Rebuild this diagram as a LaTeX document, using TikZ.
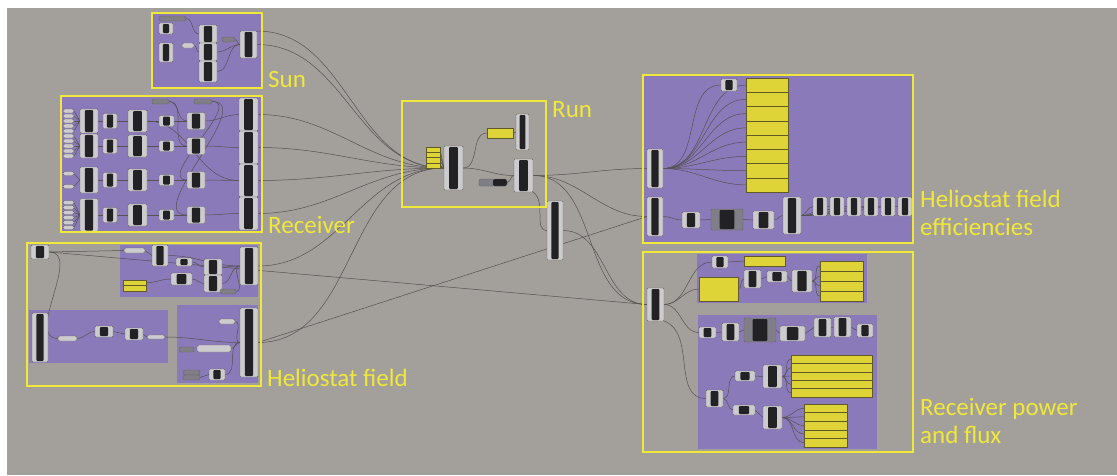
\documentclass[tikz,border=0pt]{standalone}
\usepackage{fontspec}
\setmainfont{Carlito}
\usetikzlibrary{calc}
\definecolor{canvas}{RGB}{163,159,154}
\definecolor{zonepurple}{RGB}{139,122,186}
\definecolor{frameyellow}{RGB}{240,232,58}
\definecolor{panelyellow}{RGB}{222,212,56}
\definecolor{paneledge}{RGB}{95,90,40}
\definecolor{ghlight}{RGB}{204,204,206}
\definecolor{ghmid}{RGB}{128,126,134}
\definecolor{ghdark}{RGB}{34,34,36}
\definecolor{wiregray}{RGB}{84,82,82}

\pgfdeclarelayer{back}
\pgfdeclarelayer{wires}
\pgfsetlayers{back,wires,main}

\tikzset{
  ghc/.style     = {rectangle, rounded corners=1pt, draw=black!60, fill=ghlight,
                    inner sep=0pt, outer sep=0pt, line width=0.4pt,
                    path picture={\fill[ghdark]
                      ($(path picture bounding box.south west)!0.27!(path picture bounding box.south east)+(0pt,1pt)$)
                      rectangle
                      ($(path picture bounding box.north west)!0.73!(path picture bounding box.north east)+(0pt,-1pt)$);}},
  ghwide/.style  = {ghc, fill=ghmid},
  ghpill/.style  = {rectangle, rounded corners=1.5pt, draw=black!60, fill=ghlight,
                    inner sep=0pt, outer sep=0pt, line width=0.4pt},
  ghpilld/.style = {ghpill, fill=ghmid},
  ghswitch/.style= {ghpill, fill=ghmid,
                    path picture={\fill[ghdark] (path picture bounding box.south)
                      rectangle (path picture bounding box.north east);}},
  ghpanel/.style = {rectangle, draw=paneledge, fill=panelyellow, inner sep=0pt,
                    outer sep=0pt, line width=0.5pt},
  zone/.style    = {fill=zonepurple},
  grp/.style     = {draw=frameyellow, line width=1.8pt},
  wire/.style    = {draw=wiregray, line width=0.5pt},
  lbl/.style     = {text=frameyellow, font=\fontsize{25}{28}\selectfont,
                    anchor=base west, inner sep=0pt},
}

% component by its corners: [style]{name}{x1}{y1}{x2}{y2}
\newcommand{\ghnode}[6][ghc]{%
  \node[#1, minimum width={(#5)-(#3)}, minimum height={(#6)-(#4)}] (#2)
    at ({((#3)+(#5))/2},{((#4)+(#6))/2}) {};}
% stack of yellow panels: {name}{x1}{y1}{x2}{y2}{count}
\newcommand{\ghstack}[6]{%
  \foreach \i in {1,...,#6}{
    \pgfmathsetmacro\ya{#3+(\i-1)*(#5-#3)/#6}
    \pgfmathsetmacro\yb{#3+\i*(#5-#3)/#6}
    \ghnode[ghpanel]{#1-\i}{#2}{\ya}{#4}{\yb}
  }}

\begin{document}
\begin{tikzpicture}[x=1pt, y=-1pt]
  \useasboundingbox (0,0) rectangle (1117,475);

  \begin{pgfonlayer}{back}
    \fill[white] (0,0) rectangle (1117,475);
    \fill[canvas] (7,8) rectangle (1117,475);
    \fill[zone] (152,13) rectangle (262,88);
    \fill[zone] (61,96) rectangle (262,232);
    \fill[zone] (120,245) rectangle (258,297);
    \fill[zone] (29,310) rectangle (168,363);
    \fill[zone] (177,305) rectangle (258,383);
    \fill[zone] (643,75) rectangle (913,243);
    \fill[zone] (697,254) rectangle (867,303);
    \fill[zone] (698,315) rectangle (877,449);
  \end{pgfonlayer}

  % Sun
  \ghnode[ghpilld]{sunA}{159}{16}{186}{21}
  \ghnode{sunB}{159}{23}{173}{34}
  \ghnode{sunC}{159}{43}{173}{62}
  \ghnode[ghpill]{sunD}{182}{43}{194}{48}
  \ghnode{sunE1}{199}{25}{217}{43}
  \ghnode{sunE2}{199}{43}{217}{61}
  \ghnode{sunE3}{199}{61}{217}{82}
  \ghnode[ghpilld]{sunF}{222}{37}{235}{42}
  \ghnode{sunOut}{240}{31}{257}{58}

  % Receiver
  \foreach \r/\yc/\hh/\ns/\sp in {1/121/24/5/5, 2/146/24/5/5, 3/180/26/2/13, 4/215/33/6/5}{
    \foreach \k in {1,...,\ns}{
      \pgfmathsetmacro\ys{\yc+(\k-(\ns+1)/2)*\sp}
      \ghnode[ghpill]{rcS\r-\k}{63}{\ys-2}{74}{\ys+2}
    }
    \ghnode{rcA\r}{80}{\yc-\hh/2}{98}{\yc+\hh/2}
    \ghnode{rcB\r}{103}{\yc-7.5}{117}{\yc+7.5}
    \ghnode{rcC\r}{128}{\yc-11}{147}{\yc+11}
    \ghnode{rcD\r}{159}{\yc-5.5}{174}{\yc+5.5}
    \ghnode{rcE\r}{187}{\yc-8.5}{205}{\yc+8.5}
  }
  \ghnode{rcOut1}{239}{98}{258}{131}
  \ghnode{rcOut2}{239}{131}{258}{164}
  \ghnode{rcOut3}{239}{164}{258}{197}
  \ghnode{rcOut4}{239}{197}{258}{230}
  \ghnode[ghpilld]{rcP1}{152}{99}{169}{104}
  \ghnode[ghpilld]{rcP2}{194}{99}{212}{104}

  % Heliostat field
  \ghnode{hfA}{31}{245}{49}{259}
  \ghnode[ghpill]{hfB}{124}{248}{145}{253}
  \ghnode{hfC}{152}{245}{168}{266}
  \ghnode{hfD}{176}{258}{192}{266}
  \ghnode{hfE}{171}{273}{192}{285}
  \ghstack{hfF}{123}{280}{146}{291}{2}
  \ghnode{hfG1}{204}{259}{222}{275}
  \ghnode{hfG2}{204}{275}{222}{292}
  \ghnode[ghpilld]{hfH}{220}{289}{236}{294}
  \ghnode{hfOut1}{240}{247}{258}{285}
  \ghnode{hfI}{32}{313}{48}{362}
  \ghnode[ghpill]{hfJ}{58}{336}{77}{341}
  \ghnode{hfK}{95}{326}{113}{337}
  \ghnode{hfL}{125}{328}{143}{340}
  \ghnode[ghpill]{hfM}{147}{335}{165}{339}
  \ghnode[ghpill]{hfN}{219}{319}{235}{324}
  \ghnode{hfOut2}{240}{308}{258}{377}
  \ghnode[ghpilld]{hfO}{179}{347}{194}{352}
  \ghnode[ghpill]{hfP}{197}{345}{231}{352}
  \ghnode[ghpilld]{hfQ1}{183}{370}{200}{375}
  \ghnode[ghpilld]{hfQ2}{183}{375}{200}{380}
  \ghnode{hfR}{209}{369}{225}{380}

  % Run
  \ghstack{runY}{426}{147}{440}{168}{4}
  \ghnode{runIn}{444}{146}{463}{190}
  \ghnode[ghpanel]{runP}{487}{128}{513}{138}
  \ghnode{runT}{516}{114}{529}{150}
  \ghnode{runM}{514}{159}{533}{192}
  \ghnode[ghswitch]{runS}{479}{179}{507}{186}
  \ghnode{runX}{547}{201}{563}{260}

  % Heliostat field efficiencies
  \ghnode{efA}{721}{79}{737}{91}
  \ghstack{efY}{746}{78}{788}{192}{8}
  \ghnode{efB}{647}{149}{663}{188}
  \ghnode{efC}{647}{197}{663}{236}
  \ghnode{efD}{682}{212}{700}{228}
  \ghnode[ghwide]{efE}{711}{209}{743}{230}
  \ghnode{efF}{753}{211}{774}{229}
  \ghnode{efG}{783}{197}{801}{234}
  \foreach \h/\xh in {1/813, 2/830, 3/847, 4/864, 5/881, 6/898}{
    \ghnode{efH\h}{\xh}{197}{\xh+14}{216}
  }

  % Receiver power and flux
  \ghnode{rpA}{647}{288}{664}{321}
  \ghnode{rpB}{712}{256}{728}{268}
  \ghnode[ghpanel]{rpC}{744}{256}{785}{266}
  \ghnode[ghpanel]{rpD}{699}{277}{738}{301}
  \ghnode{rpE}{744}{270}{761}{288}
  \ghnode{rpF}{767}{271}{787}{282}
  \ghnode{rpG}{792}{270}{812}{292}
  \ghstack{rpH}{820}{261}{863}{301}{4}
  \ghnode{rpI1}{699}{327}{716}{338}
  \ghnode{rpI2}{722}{323}{739}{341}
  \ghnode[ghwide]{rpI3}{744}{318}{776}{342}
  \ghnode{rpI4}{780}{326}{805}{341}
  \ghnode{rpI5}{814}{318}{831}{337}
  \ghnode{rpI6}{834}{317}{851}{337}
  \ghnode{rpI7}{857}{324}{873}{337}
  \ghnode{rpJ}{735}{371}{755}{381}
  \ghnode{rpK}{763}{365}{782}{388}
  \ghstack{rpL}{791}{355}{872}{397}{5}
  \ghnode{rpM}{706}{390}{723}{407}
  \ghnode{rpN}{733}{405}{755}{415}
  \ghnode{rpO}{763}{406}{782}{429}
  \ghstack{rpP}{804}{404}{847}{447}{5}

  \begin{pgfonlayer}{wires}
    % inside Sun
    \draw[wire] (sunA.east) to[out=0,in=180] (sunE1.west);
    \draw[wire] (sunD.east) to[out=0,in=180] (sunE2.west);
    \draw[wire] (sunF.east) to[out=0,in=180] (sunOut.west);
    \draw[wire] (sunE2.east) to[out=0,in=180] (sunOut.west);
    \draw[wire] (sunE3.east) to[out=0,in=180] (sunOut.west);
    % inside Receiver
    \foreach \r/\ns in {1/5, 2/5, 3/2, 4/6}{
      \foreach \k in {1,...,\ns}{
        \draw[wire] (rcS\r-\k.east) -- (rcA\r.west);
      }
      \draw[wire] (rcA\r.east) -- (rcB\r.west);
      \draw[wire] (rcB\r.east) -- (rcC\r.west);
      \draw[wire] (rcC\r.east) -- (rcD\r.west);
      \draw[wire] (rcD\r.east) -- (rcE\r.west);
      \draw[wire] (rcE\r.east) to[out=0,in=180] (rcOut\r.west);
    }
    \draw[wire] (rcP1.east) to[out=0,in=180] (rcE1.west);
    \draw[wire] (rcP1.east) to[out=0,in=180] (rcE2.west);
    \draw[wire] (rcP2.east) to[out=0,in=180] (rcE3.west);
    \draw[wire] (rcP2.east) to[out=0,in=180] (rcE4.west);
    \draw[wire] (rcC1.east) to[out=0,in=180] (rcOut3.west);
    % inside Heliostat field
    \draw[wire] (hfA.east) -- (hfB.west);
    \draw[wire] (hfA.east) to[out=0,in=180] (hfJ.west);
    \draw[wire] (hfB.east) -- (hfC.west);
    \draw[wire] (hfC.east) to[out=0,in=180] (hfOut1.west);
    \draw[wire] (hfD.east) to[out=0,in=180] (hfG1.west);
    \draw[wire] (hfF-1.east) to[out=0,in=180] (hfE.west);
    \draw[wire] (hfE.east) to[out=0,in=180] (hfG2.west);
    \draw[wire] (hfG1.east) to[out=0,in=180] (hfOut1.west);
    \draw[wire] (hfG2.east) to[out=0,in=180] (hfOut1.west);
    \draw[wire] (hfH.east) to[out=0,in=180] (hfOut1.west);
    \draw[wire] (hfJ.east) to[out=0,in=180] (hfK.west);
    \draw[wire] (hfK.east) -- (hfL.west);
    \draw[wire] (hfL.east) -- (hfM.west);
    \draw[wire] (hfM.east) to[out=0,in=180] (hfOut2.west);
    \draw[wire] (hfN.east) to[out=0,in=180] (hfOut2.west);
    \draw[wire] (hfP.east) to[out=0,in=180] (hfOut2.west);
    \draw[wire] (hfQ2.east) -- (hfR.west);
    \draw[wire] (hfR.east) to[out=0,in=180] (hfOut2.west);
    % into Run
    \draw[wire] (sunOut.east) to[out=0,in=180] (runIn.west);
    \draw[wire] (sunOut.north east) to[out=0,in=180] (runIn.west);
    \foreach \r in {1,...,4}{
      \draw[wire] (rcOut\r.east) to[out=0,in=180] (runIn.west);
    }
    \draw[wire] (hfOut1.east) to[out=0,in=180] (runIn.west);
    \draw[wire] (hfOut2.east) to[out=0,in=180] (runIn.west);
    % inside Run
    \foreach \i in {1,...,4}{
      \draw[wire] (runY-\i.east) -- (runIn.west);
    }
    \draw[wire] (runIn.east) to[out=0,in=180] (runP.west);
    \draw[wire] (runP.east) to[out=0,in=180] (runT.west);
    \draw[wire] (runIn.east) to[out=0,in=180] (runM.west);
    \draw[wire] (runS.east) to[out=0,in=180] (runM.west);
    \draw[wire] (runM.south east) .. controls +(14,10) and +(-14,0) .. (runX.west);
    % out of Run
    \draw[wire] (runM.east) to[out=0,in=180] (efB.west);
    \draw[wire] (runM.east) to[out=0,in=180] (efC.west);
    \draw[wire] (runM.east) to[out=0,in=180] (rpA.west);
    \draw[wire] (runX.east) to[out=0,in=180] (rpA.west);
    \draw[wire] (hfA.east) -- (rpA.west);
    \draw[wire] (hfOut2.east) -- (efC.west);
    % inside Heliostat field efficiencies
    \draw[wire] (efB.east) to[out=0,in=180] (efA.west);
    \foreach \i in {1,...,8}{
      \draw[wire] (efB.east) to[out=0,in=180] (efY-\i.west);
    }
    \draw[wire] (efC.east) to[out=0,in=180] (efD.west);
    \draw[wire] (efD.east) -- (efE.west);
    \draw[wire] (efE.east) -- (efF.west);
    \draw[wire] (efF.east) to[out=0,in=180] (efG.west);
    \foreach \h in {1,...,6}{
      \draw[wire] (efG.east) to[out=0,in=180] (efH\h.west);
    }
    % inside Receiver power and flux
    \draw[wire] (rpA.east) to[out=0,in=180] (rpB.west);
    \draw[wire] (rpA.east) to[out=0,in=180] (rpD.west);
    \draw[wire] (rpB.east) -- (rpC.west);
    \draw[wire] (rpD.east) to[out=0,in=180] (rpE.west);
    \draw[wire] (rpE.east) to[out=0,in=180] (rpF.west);
    \draw[wire] (rpF.east) to[out=0,in=180] (rpG.west);
    \foreach \i in {1,...,4}{
      \draw[wire] (rpG.east) to[out=0,in=180] (rpH-\i.west);
    }
    \draw[wire] (rpA.east) to[out=0,in=180] (rpI1.west);
    \foreach \a/\b in {1/2, 2/3, 3/4, 4/5, 5/6, 6/7}{
      \draw[wire] (rpI\a.east) -- (rpI\b.west);
    }
    \draw[wire] (rpA.south east) to[out=-20,in=180] (rpM.west);
    \draw[wire] (rpM.east) to[out=0,in=180] (rpJ.west);
    \draw[wire] (rpM.east) to[out=0,in=180] (rpN.west);
    \draw[wire] (rpJ.east) -- (rpK.west);
    \draw[wire] (rpN.east) -- (rpO.west);
    \foreach \i in {1,...,5}{
      \draw[wire] (rpK.east) to[out=0,in=180] (rpL-\i.west);
      \draw[wire] (rpO.east) to[out=0,in=180] (rpP-\i.west);
    }
  \end{pgfonlayer}

  % group frames
  \draw[grp] (152,13) rectangle (262,88);
  \draw[grp] (61,96) rectangle (262,232);
  \draw[grp] (27,243) rectangle (261,386);
  \draw[grp] (402,101) rectangle (546,207);
  \draw[grp] (643,75) rectangle (913,243);
  \draw[grp] (643,252) rectangle (913,452);

  % labels
  \node[lbl] (sunLbl) at (268,87) {Sun};
  \node[lbl] (rcLbl) at (268,233) {Receiver};
  \node[lbl] (hfLbl) at (267,386) {Heliostat field};
  \node[lbl] (runLbl) at (552,117) {Run};
  \node[lbl] (efLbl) at (920,207) {Heliostat field};
  \node[lbl] (efLblB) at (920,235) {efficiencies};
  \node[lbl] (rpLbl) at (920,415) {Receiver power};
  \node[lbl] (rpLblB) at (920,443) {and flux};
\end{tikzpicture}
\end{document}
